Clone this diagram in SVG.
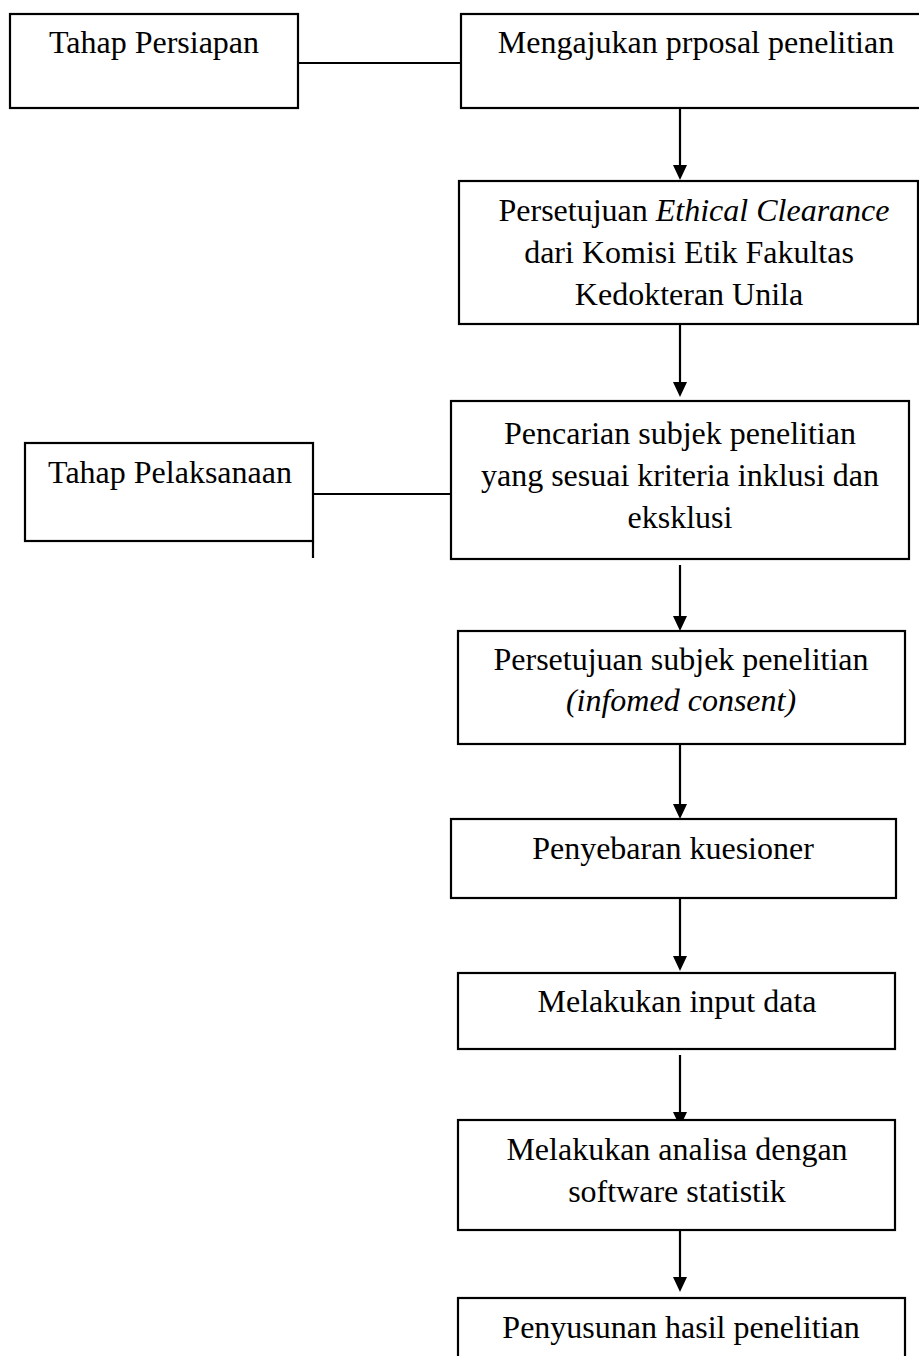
<svg xmlns="http://www.w3.org/2000/svg" width="919" height="1356" viewBox="0 0 919 1356">
<style>
.box{fill:#fff;stroke:#000;stroke-width:2.2}
.ln{fill:none;stroke:#000;stroke-width:2.2}
.t{font-family:"Liberation Serif","Times New Roman",serif;font-size:32px;fill:#000;text-anchor:middle}
.i{font-style:italic}
</style>
<defs>
<marker id="ah" markerWidth="14" markerHeight="15" refX="7" refY="15" orient="auto-start-reverse" markerUnits="userSpaceOnUse" viewBox="0 0 14 15">
<path d="M0,0 L14,0 L7,15 Z" fill="#000"/>
</marker>
</defs>
<rect width="919" height="1356" fill="#fff"/>
<g id="connectors">
<line class="ln" x1="298" y1="63" x2="461" y2="63"/>
<line class="ln" x1="313" y1="494" x2="451" y2="494"/>
<line class="ln" x1="313" y1="541" x2="313" y2="558"/>
<line class="ln" x1="680" y1="108" x2="680" y2="165"/>
<path d="M673,165 L687,165 L680,180 Z"/>
<line class="ln" x1="680" y1="324" x2="680" y2="383"/>
<path d="M673,382 L687,382 L680,397 Z"/>
<line class="ln" x1="680" y1="565" x2="680" y2="617"/>
<path d="M673,616 L687,616 L680,631 Z"/>
<line class="ln" x1="680" y1="744" x2="680" y2="805"/>
<path d="M673,804 L687,804 L680,819 Z"/>
<line class="ln" x1="680" y1="898" x2="680" y2="957"/>
<path d="M673,956 L687,956 L680,971 Z"/>
<line class="ln" x1="680" y1="1055" x2="680" y2="1113"/>
<path d="M673,1112 L687,1112 L680,1127 Z"/>
<line class="ln" x1="680" y1="1219" x2="680" y2="1278"/>
<path d="M673,1277 L687,1277 L680,1292 Z"/>
</g>
<g id="tahap-persiapan">
<rect class="box" x="10" y="14" width="288" height="94"/>
<text class="t" x="154" y="53">Tahap Persiapan</text>
</g>
<g id="mengajukan">
<rect class="box" x="461" y="14" width="474" height="94"/>
<text class="t" x="696" y="53">Mengajukan prposal penelitian</text>
</g>
<g id="ethical">
<rect class="box" x="459" y="181" width="459" height="143"/>
<text class="t" x="694" y="221">Persetujuan <tspan class="i">Ethical Clearance</tspan></text>
<text class="t" x="689" y="263">dari Komisi Etik Fakultas</text>
<text class="t" x="689" y="305">Kedokteran Unila</text>
</g>
<g id="tahap-pelaksanaan">
<rect class="box" x="25" y="443" width="288" height="98"/>
<text class="t" x="170" y="483">Tahap Pelaksanaan</text>
</g>
<g id="pencarian">
<rect class="box" x="451" y="401" width="458" height="158"/>
<text class="t" x="680" y="444">Pencarian subjek penelitian</text>
<text class="t" x="680" y="486">yang sesuai kriteria inklusi dan</text>
<text class="t" x="680" y="528">eksklusi</text>
</g>
<g id="informed">
<rect class="box" x="458" y="631" width="447" height="113"/>
<text class="t" x="681" y="670">Persetujuan subjek penelitian</text>
<text class="t i" x="681" y="711">(infomed consent)</text>
</g>
<g id="penyebaran">
<rect class="box" x="451" y="819" width="445" height="79"/>
<text class="t" x="673" y="859">Penyebaran kuesioner</text>
</g>
<g id="input">
<rect class="box" x="458" y="973" width="437" height="76"/>
<text class="t" x="677" y="1012">Melakukan input data</text>
</g>
<g id="analisa">
<rect class="box" x="458" y="1120" width="437" height="110"/>
<text class="t" x="677" y="1160">Melakukan analisa dengan</text>
<text class="t" x="677" y="1202">software statistik</text>
</g>
<g id="penyusunan">
<rect class="box" x="458" y="1298" width="447" height="80"/>
<text class="t" x="681" y="1338">Penyusunan hasil penelitian</text>
</g>
</svg>
